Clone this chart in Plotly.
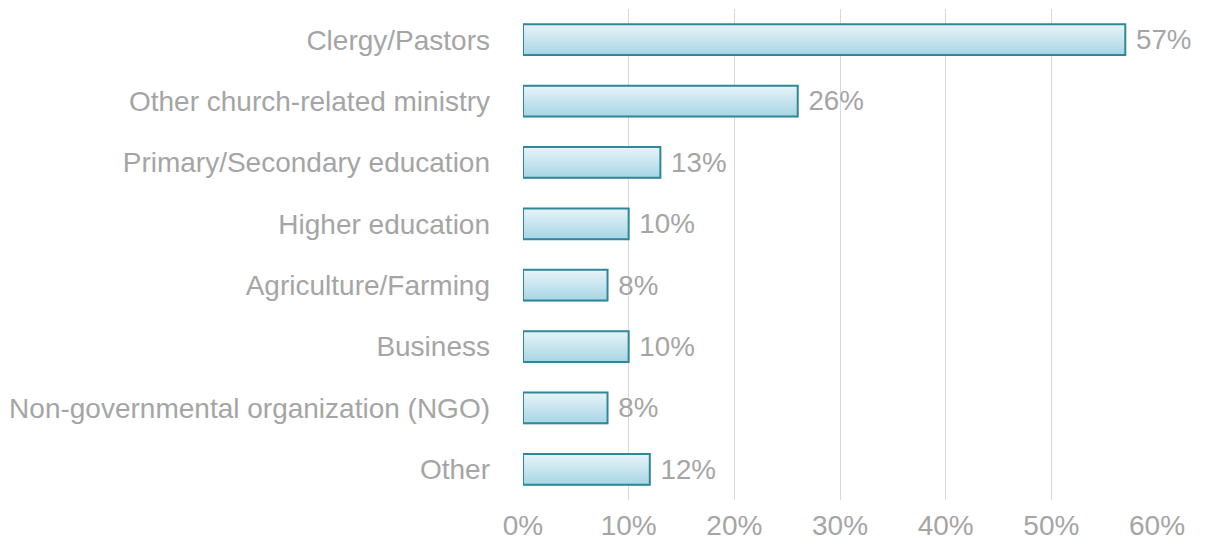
import plotly.graph_objects as go

categories = ["Clergy/Pastors", "Other church-related ministry", "Primary/Secondary education",
              "Higher education", "Agriculture/Farming", "Business",
              "Non-governmental organization (NGO)", "Other"]
values = [0.57, 0.26, 0.13, 0.10, 0.08, 0.10, 0.08, 0.12]
x_ticks = [0, 0.1, 0.2, 0.3, 0.4, 0.5, 0.6]
x_tick_labels = ["0%", "10%", "20%", "30%", "40%", "50%", "60%"]

FONT = "Liberation Sans, Arial, sans-serif"
GRAY = "#a5a5a5"
FS = 28
BAR_W = 0.5
N = 20
top_col = (230, 243, 248)
bot_col = (168, 214, 229)

fig = go.Figure()

# gradient slices
for i in range(N):
    t = i / (N - 1)
    c = tuple(round(top_col[k] + (bot_col[k] - top_col[k]) * t) for k in range(3))
    fig.add_trace(go.Bar(
        y=categories, x=values, orientation="h",
        width=BAR_W / N * 1.6, offset=-BAR_W / 2 + i * BAR_W / N,
        marker=dict(color="rgb(%d,%d,%d)" % c, line=dict(width=0)),
        hoverinfo="skip", showlegend=False,
    ))

# outline + labels
fig.add_trace(go.Bar(
    y=categories, x=values, orientation="h",
    width=BAR_W, offset=-BAR_W / 2,
    marker=dict(color="rgba(0,0,0,0)", line=dict(color="#2f8797", width=2)),
    text=["\u00a0%d%%" % round(v * 100) for v in values],
    textposition="outside", cliponaxis=False,
    textfont=dict(family=FONT, size=FS, color=GRAY),
    showlegend=False,
))

fig.update_layout(
    barmode="overlay",
    width=1205, height=539,
    margin=dict(l=515, r=56, t=1, b=47, autoexpand=False),
    paper_bgcolor="white", plot_bgcolor="white",
    font=dict(family=FONT, size=FS, color=GRAY),
    xaxis=dict(range=[0, 0.6], tickvals=x_ticks, ticktext=x_tick_labels,
               showgrid=True, gridcolor="#d9d9d9", gridwidth=1.3,
               zeroline=False, showline=False, ticks="", automargin=False,
               tickfont=dict(family=FONT, size=FS, color=GRAY),
               ticklabelstandoff=6),
    yaxis=dict(autorange="reversed", showgrid=False, zeroline=False, showline=False,
               ticks="", automargin=False, tickfont=dict(family=FONT, size=FS, color=GRAY),
               ticklabelstandoff=32),
)

fig.write_html("out.html")
